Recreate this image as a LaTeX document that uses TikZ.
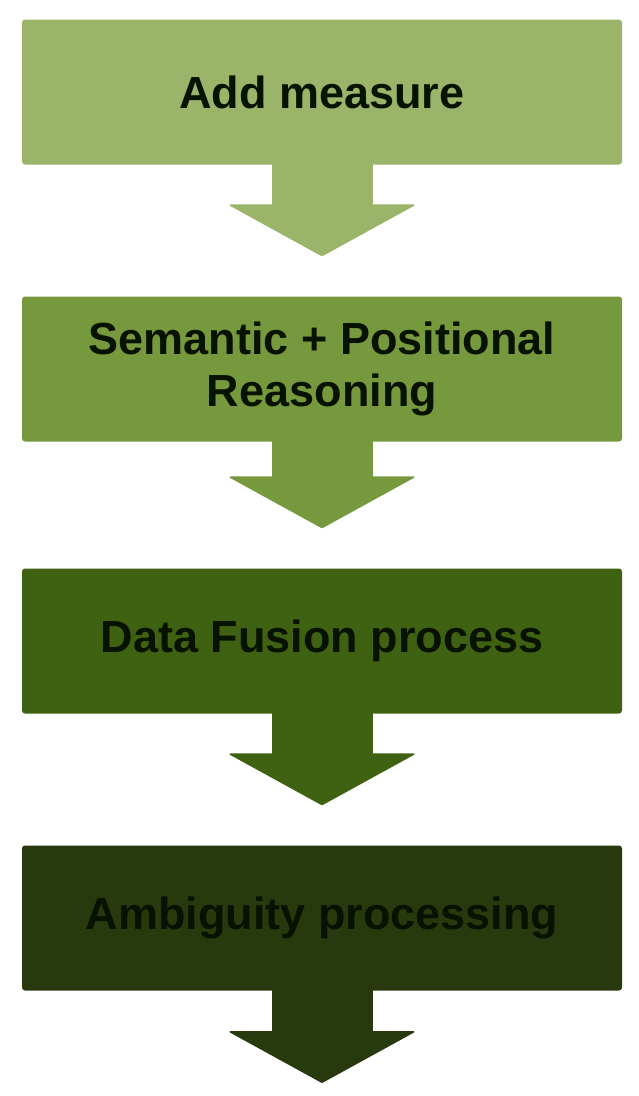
\documentclass[tikz,border=0pt]{standalone}
\usepackage{fontspec}
\setmainfont{Liberation Sans}
\usetikzlibrary{arrows.meta,positioning,calc}
\definecolor{cstepa}{HTML}{9AB46A}
\definecolor{cstepb}{HTML}{76993E}
\definecolor{cstepc}{HTML}{3F6112}
\definecolor{cstepd}{HTML}{283A0D}
\definecolor{ctext}{HTML}{081200}

\begin{document}
\begin{tikzpicture}[x=1pt, y=-1pt,
      stage/.style={rectangle, rounded corners=3pt, minimum width=600pt, minimum height=145pt,
        inner sep=0pt, align=center, text=ctext, font=\fontsize{45}{52}\selectfont\bfseries},
      flow/.style={line width=101pt, -{Triangle[length=52pt, width=189pt, line width=1.5pt, round]}, shorten >=40pt}
    ]
    \useasboundingbox (0,0) rectangle (638,1096);
    \coordinate (out) at (322,1123);
    % arrows first, boxes on top
    \node[stage, fill=cstepa] (add) at (322,92) {Add measure};
    \node[stage, fill=cstepb] (reason) at (322,369) {Semantic + Positional\\Reasoning};
    \node[stage, fill=cstepc] (fusion) at (322,641) {Data Fusion process};
    \node[stage, fill=cstepd] (ambig) at (322,918) {Ambiguity processing};
    \draw[flow, cstepa] ($(add.south)+(0,-2)$) -- (reason.north);
    \draw[flow, cstepb] ($(reason.south)+(0,-2)$) -- (fusion.north);
    \draw[flow, cstepc] ($(fusion.south)+(0,-2)$) -- (ambig.north);
    \draw[flow, cstepd] ($(ambig.south)+(0,-2)$) -- (out);
  \end{tikzpicture}
\end{document}
